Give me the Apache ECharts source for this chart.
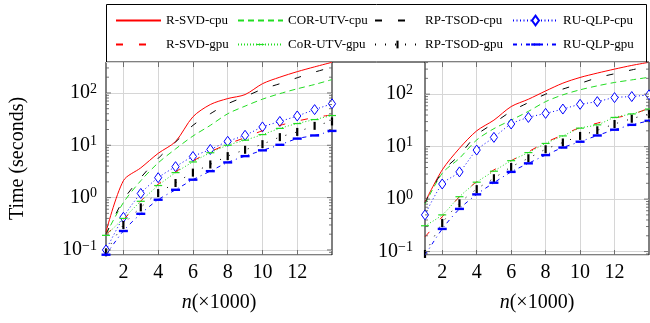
<!DOCTYPE html>
<html>
<head>
<meta charset="utf-8">
<script src="https://cdn.jsdelivr.net/npm/echarts@6/dist/echarts.min.js"></script>
<style>
html,body{margin:0;padding:0;background:#fff;}
#main{width:650px;height:323px;}
</style>
</head>
<body>
<div id="main"></div>
<script>
// n (x1000)
var nVals = [1,2,3,4,5,6,7,8,9,10,11,12,13,14];
var xTicks = [2,4,6,8,10,12];
var yMajorTicks = [0.1,1,10,100];
var yMinorTicks = [0.09,0.2,0.3,0.4,0.5,0.6,0.7,0.8,0.9,2,3,4,5,6,7,8,9,20,30,40,50,60,70,80,90,200,300,400];

// left panel (seconds)
var rsvdCpuL   = [0.22,2.1,3.7,7.0,11.8,35,60,78,93,150,200,255,315,385];
var corCpuL    = [0.2,0.8,2.1,4.6,8.5,15,24,40,56,76,97,120,145,180];
var rptsodCpuL = [0.2,0.9,2.4,5.6,11.5,24,40,62,85,118,150,195,250,310];
var ruqlpCpuL  = [0.1,0.42,1.2,2.4,3.9,6.1,8.3,11.9,15.5,22.4,28.5,36.3,48,62];
var rsvdGpuL   = [0.2,0.38,0.86,1.8,3.1,5.0,7.5,10.5,14,19,24,29,34,38];
var corGpuL    = [0.19,0.4,0.85,1.7,3.0,4.8,7.2,10,12.5,16,21,26,31,37];
var rptsodGpuL = [0.09,0.3,0.65,1.22,1.9,3.0,4.3,6.2,8.2,10.5,14.3,18,23.5,28.5];
var ruqlpGpuL  = [0.081,0.23,0.49,0.91,1.41,2.2,3.2,4.7,6.2,8.0,10.2,13.4,15.4,18.8];

// right panel (seconds)
var rsvdCpuR   = [0.88,3.6,9.3,20,32,58,80,115,162,208,252,300,353,405];
var corCpuR    = [0.8,3.1,6,13.4,22,32,47,72,97,121,144,167,187,210];
var rptsodCpuR = [0.85,3.3,6.9,16.7,28,47,69,100,125,160,205,245,290,340];
var ruqlpCpuR  = [0.5,1.94,3.3,8.6,15,27,36,43,52,64,72,86,90,97];
var rsvdGpuR   = [0.19,0.46,1.11,2.15,3.6,5.4,8,12,16.7,23,28,35,41,54];
var corGpuR    = [0.31,0.5,1.11,2.1,3.4,5.4,7.7,11.5,16,22.5,26,36,42,52];
var rptsodGpuR = [0.09,0.35,0.83,1.55,2.5,4.1,6,8.9,12,16,20.5,27,34,42];
var ruqlpGpuR  = [0.085,0.27,0.65,1.23,2.05,3.3,4.8,6.9,9.6,12.4,16.3,21,26,31];

var yRangeL = [0.08, 390];
var yRangeR = [0.086, 410];

var serif = 'Liberation Serif';
var DIAMOND = 'path://M0,0 M10,10 M5,0 L8.6,5 L5,10 L1.4,5 Z';
var VBAR = 'path://M0,0 M10,10 M3.9,1 L6.1,1 L6.1,9 L3.9,9 Z';
var HBAR_THICK = 'path://M0,0 M10,10 M0.5,3.8 L9.5,3.8 L9.5,6.2 L0.5,6.2 Z';
var HBAR_THIN = 'path://M0,0 M10,10 M1,4.4 L9,4.4 L9,5.6 L1,5.6 Z';

var specs = [
  {name:'R-SVD-cpu',   color:'#ff0000', dash:'solid'},
  {name:'COR-UTV-cpu', color:'#22dd22', dash:[6,4]},
  {name:'RP-TSOD-cpu', color:'#000000', dash:[7,16]},
  {name:'RU-QLP-cpu',  color:'#0000ff', dash:[1,2.5], symbol:DIAMOND, fill:'#ffffff'},
  {name:'R-SVD-gpu',   color:'#ff0000', dash:[7,16]},
  {name:'CoR-UTV-gpu', color:'#22dd22', dash:[1,2], symbol:HBAR_THIN},
  {name:'RP-TSOD-gpu', color:'#000000', dash:[1,9], symbol:VBAR},
  {name:'RU-QLP-gpu',  color:'#0000ff', dash:[4,4,1,4], symbol:HBAR_THICK}
];
var leftSets = [rsvdCpuL,corCpuL,rptsodCpuL,ruqlpCpuL,rsvdGpuL,corGpuL,rptsodGpuL,ruqlpGpuL];
var rightSets = [rsvdCpuR,corCpuR,rptsodCpuR,ruqlpCpuR,rsvdGpuR,corGpuR,rptsodGpuR,ruqlpGpuR];

function pairs(ys){
  return nVals.map(function(x,i){ return [x, ys[i]]; });
}

function lineSeries(sets, xi, yi){
  return specs.map(function(s, k){
    return {
      name: s.name, type:'line', xAxisIndex:xi, yAxisIndex:yi,
      data: pairs(sets[k]),
      smooth: 0.3,
      symbol: s.symbol || 'none',
      symbolSize: 10,
      showSymbol: !!s.symbol,
      lineStyle: {color:s.color, width:1, type:s.dash},
      itemStyle: s.symbol == DIAMOND ?
        {color:s.fill, borderColor:s.color, borderWidth:1, opacity:1} :
        {color:s.color, borderWidth:0, opacity:1},
      emphasis: {disabled:true},
      z: 2 + k * 0.1
    };
  });
}

// y tick marks (inside, both sides), placed through the log axis
function yTickSeries(xi, yi){
  var items = yMajorTicks.map(function(v){ return [1, v, 5]; })
    .concat(yMinorTicks.map(function(v){ return [1, v, 3]; }));
  return {
    type:'custom', xAxisIndex:xi, yAxisIndex:yi, silent:true, clip:false, z:3,
    data: items,
    renderItem: function(params, api){
      var cs = params.coordSys;
      var y = api.coord([api.value(0), api.value(1)])[1];
      var len = api.value(2);
      if (y < cs.y - 0.5 || y > cs.y + cs.height + 0.5) return null;
      var st = {stroke:'#555', lineWidth:0.8};
      return {type:'group', children:[
        {type:'line', shape:{x1:cs.x, y1:y, x2:cs.x+len, y2:y}, style:st},
        {type:'line', shape:{x1:cs.x+cs.width-len, y1:y, x2:cs.x+cs.width, y2:y}, style:st}
      ]};
    }
  };
}

function yLabel(v){
  var e = Math.log(v) / Math.LN10, r = Math.round(e);
  if (Math.abs(e - r) > 1e-6) return '';
  return '{b|10}{s|' + (r < 0 ? '\u2212' + (-r) : r) + '}';
}

var labelRich = {
  b: {fontFamily:serif, fontSize:20, color:'#000', lineHeight:22},
  s: {fontFamily:serif, fontSize:14, color:'#000', verticalAlign:'top', lineHeight:14, padding:[0,0,6,0]}
};

function xAxis(gi, pos){
  var bottom = pos === 'bottom';
  return {
    type:'value', gridIndex:gi, position:pos, min:1, max:14,
    axisLine:{show:false},
    axisTick:{show:true, inside:true, length:5, customValues:xTicks, lineStyle:{color:'#555', width:0.8}},
    axisLabel:{show:bottom, customValues:xTicks, margin:8, fontFamily:serif, fontSize:20, color:'#000'},
    splitLine:{show:bottom, lineStyle:{color:'#d6d6d6', width:1}},
    name: bottom ? '{i|n}{r|(\u00d71000)}' : '',
    nameLocation:'middle', nameGap:38,
    nameTextStyle:{rich:{
      i:{fontFamily:serif, fontSize:20, fontStyle:'italic', color:'#000'},
      r:{fontFamily:serif, fontSize:20, color:'#000'}
    }}
  };
}

function yAxis(gi, range, withName, margin){
  return {
    type:'log', logBase:10, gridIndex:gi, min:range[0], max:range[1],
    axisLine:{show:false},
    axisTick:{show:false},
    axisLabel:{margin:margin, formatter:yLabel, rich:labelRich, showMinLabel:false, showMaxLabel:false},
    splitLine:{show:true, lineStyle:{color:'#d6d6d6', width:1}},
    name: withName ? 'Time (seconds)' : '',
    nameLocation:'middle', nameGap:78,
    nameTextStyle:{fontFamily:serif, fontSize:20, color:'#000'}
  };
}

var legendCols = [115, 237, 374, 512];
var legendRows = [14, 38];
var legends = specs.map(function(s, k){
  return {
    z:5, left:legendCols[k % 4], top:legendRows[Math.floor(k / 4)],
    padding:0, itemWidth:45, itemHeight:12, itemGap:0, selectedMode:false,
    data:[s.name],
    textStyle:{fontFamily:serif, fontSize:13, color:'#000'},
    itemStyle: s.symbol ? {} : {opacity:0}
  };
});

var chart = echarts.init(document.getElementById('main'), null, {renderer:'canvas'});
var option = {
  animation:false,
  backgroundColor:'#ffffff',
  graphic:[{
    type:'rect', z:0,
    shape:{x:106.5, y:4.5, width:540, height:57.5},
    style:{fill:'#ffffff', stroke:'#000', lineWidth:1}
  }],
  legend: legends,
  grid:[
    {left:106, top:62, width:226, height:193, show:true, borderColor:'#000', borderWidth:1, backgroundColor:'transparent'},
    {left:425, top:62, width:224, height:193, show:true, borderColor:'#000', borderWidth:1, backgroundColor:'transparent'}
  ],
  xAxis:[xAxis(0,'bottom'), xAxis(0,'top'), xAxis(1,'bottom'), xAxis(1,'top')],
  yAxis:[yAxis(0, yRangeL, true, 9), yAxis(1, yRangeR, false, 12)],
  series: lineSeries(leftSets, 0, 0)
    .concat(lineSeries(rightSets, 2, 1))
    .concat([yTickSeries(0, 0), yTickSeries(2, 1)])
};
chart.setOption(option);
</script>
</body>
</html>
